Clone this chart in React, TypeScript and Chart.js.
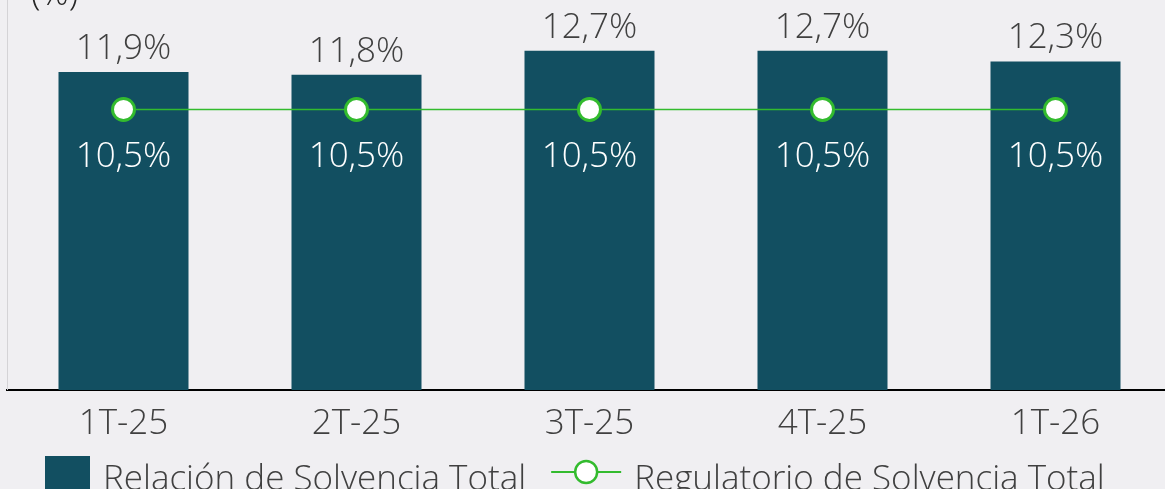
import React, { useEffect, useRef } from "react";
import { Chart, registerables } from "chart.js";

Chart.register(...registerables);

const categories = ["1T-25", "2T-25", "3T-25", "4T-25", "1T-26"];
const solvencyRatio = [11.9, 11.8, 12.7, 12.7, 12.3];
const regulatoryMinimum = [10.5, 10.5, 10.5, 10.5, 10.5];
const seriesNames = ["Relación de Solvencia Total", "Regulatorio de Solvencia Total"];
const unitLabel = "(%)";

const FONT = "'Open Sans', 'DejaVu Sans', sans-serif";
const BAR_COLOR = "#124f61";
const GREEN = "#33bb2e";
const TEXT = "#404040";
const BG = "#f0eff2";

const fmt = (v: number) => v.toFixed(1).replace(".", ",") + "%";

const overlayPlugin = {
  id: "overlay",
  beforeDatasetsDraw(chart: any) {
    const { ctx, chartArea } = chart;
    ctx.save();
    ctx.strokeStyle = "#d4d3d6";
    ctx.lineWidth = 1;
    ctx.beginPath();
    ctx.moveTo(chartArea.left + 0.5, 0);
    ctx.lineTo(chartArea.left + 0.5, chartArea.bottom);
    ctx.stroke();
    ctx.restore();
  },
  afterDatasetsDraw(chart: any) {
    const { ctx } = chart;
    ctx.save();
    ctx.font = `300 35px ${FONT}`;
    ctx.textAlign = "center";
    ctx.textBaseline = "alphabetic";
    const barMeta = chart.getDatasetMeta(0);
    barMeta.data.forEach((el: any, i: number) => {
      ctx.fillStyle = TEXT;
      ctx.fillText(fmt(solvencyRatio[i]), el.x, el.y - 13);
    });
    const lineMeta = chart.getDatasetMeta(1);
    lineMeta.data.forEach((el: any, i: number) => {
      ctx.fillStyle = "#ffffff";
      ctx.fillText(fmt(regulatoryMinimum[i]), el.x, el.y + 57);
    });
    ctx.restore();
  },
  afterDraw(chart: any) {
    const { ctx } = chart;
    ctx.save();
    // unit label (partly cut at top)
    ctx.font = `300 35px ${FONT}`;
    ctx.fillStyle = "#262626";
    ctx.textAlign = "left";
    ctx.textBaseline = "alphabetic";
    ctx.fillText(unitLabel, 31, 5);

    // legend
    const cy = 472;
    const baseline = 490;
    ctx.font = `300 35px ${FONT}`;
    ctx.fillStyle = BAR_COLOR;
    ctx.fillRect(45, 456, 45, 45);
    ctx.fillStyle = TEXT;
    ctx.fillText(seriesNames[0], 103, baseline);
    const w1 = ctx.measureText(seriesNames[0]).width;
    const lx = 103 + w1 + 25;
    ctx.strokeStyle = GREEN;
    ctx.lineWidth = 2;
    ctx.beginPath();
    ctx.moveTo(lx, cy);
    ctx.lineTo(lx + 70, cy);
    ctx.stroke();
    ctx.beginPath();
    ctx.arc(lx + 35, cy, 11, 0, Math.PI * 2);
    ctx.fillStyle = "#ffffff";
    ctx.fill();
    ctx.lineWidth = 2.5;
    ctx.stroke();
    ctx.fillStyle = TEXT;
    ctx.fillText(seriesNames[1], lx + 83, baseline);
    ctx.restore();
  },
};

export default function App() {
  const canvasRef = useRef<HTMLCanvasElement | null>(null);

  useEffect(() => {
    if (!canvasRef.current) return;
    const chart = new Chart(canvasRef.current, {
      data: {
        labels: categories,
        datasets: [
          {
            type: "bar",
            label: seriesNames[0],
            data: solvencyRatio,
            backgroundColor: BAR_COLOR,
            barPercentage: 0.558,
            categoryPercentage: 1,
            order: 2,
          },
          {
            type: "line",
            label: seriesNames[1],
            data: regulatoryMinimum,
            borderColor: GREEN,
            borderWidth: 1.5,
            pointRadius: 11,
            pointBorderWidth: 3,
            pointBackgroundColor: "#ffffff",
            pointBorderColor: GREEN,
            tension: 0,
            order: 1,
          },
        ],
      } as any,
      options: {
        animation: false,
        responsive: false,
        events: [],
        layout: { autoPadding: false, padding: { left: 7, top: 16, right: 0, bottom: 0 } },
        plugins: {
          legend: { display: false },
          tooltip: { enabled: false },
          title: { display: false },
        },
        scales: {
          x: {
            grid: { display: false, drawTicks: false },
            border: { display: true, color: "#000000", width: 2 },
            ticks: {
              color: TEXT,
              font: { family: FONT, size: 35, weight: "300" as any },
              padding: 13,
            },
            afterFit: (scale: any) => {
              scale.height = 99;
              scale.paddingLeft = 0;
              scale.paddingRight = 0;
            },
          },
          y: {
            display: false,
            min: 0,
            max: 14,
          },
        },
      } as any,
      plugins: [overlayPlugin],
    });
    return () => chart.destroy();
  }, []);

  return (
    <div
      style={{
        position: "fixed",
        left: 0,
        top: 0,
        width: "1165px",
        height: "489px",
        overflow: "hidden",
        background: BG,
      }}
    >
      <canvas
        ref={canvasRef}
        width={1172}
        height={489}
        style={{ position: "absolute", left: 0, top: 0, width: "1172px", height: "489px" }}
      />
    </div>
  );
}
